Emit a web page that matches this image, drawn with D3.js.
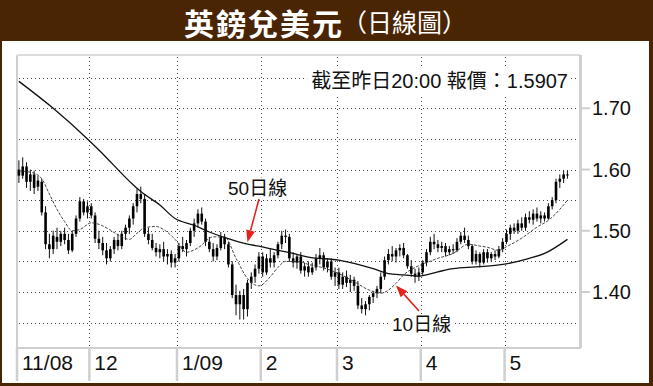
<!DOCTYPE html>
<html><head><meta charset="utf-8">
<script src="https://cdn.jsdelivr.net/npm/d3@7"></script>
<style>html,body{margin:0;padding:0;background:#fff;} svg{display:block;}</style>
</head><body>
<svg id="c" width="653" height="386"></svg>
<script>
// ---------------- DATA ----------------
const monthLabels = ["11/08", "12", "1/09", "2", "3", "4", "5"];
const monthStart  = [0, 19, 42, 64, 84, 106, 128];

const open = [
 1.600,1.590,1.605,1.580,1.592,1.572,1.580,1.530,1.478,1.470,1.490,1.482,1.495,1.485,1.468,1.495,1.520,1.548,1.530,
 1.540,1.525,1.487,1.480,1.468,1.455,1.470,1.485,1.475,1.495,1.505,1.520,1.540,1.560,1.552,1.495,1.485,1.472,1.465,1.470,1.458,1.462,1.448,
 1.455,1.475,1.470,1.480,1.500,1.512,1.528,1.515,1.482,1.470,1.458,1.472,1.490,1.478,1.445,1.395,1.380,1.395,1.372,1.415,1.425,1.438,
 1.458,1.432,1.455,1.448,1.460,1.478,1.492,1.490,1.455,1.448,1.458,1.435,1.442,1.432,1.440,1.455,1.460,1.440,1.450,1.425,
 1.432,1.412,1.425,1.415,1.420,1.410,1.378,1.372,1.380,1.392,1.398,1.405,1.425,1.452,1.462,1.458,1.468,1.472,1.460,1.442,1.430,1.425,
 1.432,1.448,1.465,1.482,1.478,1.472,1.475,1.465,1.470,1.468,1.482,1.492,1.485,1.475,1.450,1.462,1.448,1.465,1.455,1.462,1.458,1.470,
 1.482,1.495,1.505,1.500,1.512,1.505,1.522,1.518,1.528,1.520,1.525,1.520,1.540,1.550,1.580,1.585,1.592];
const high = [
 1.615,1.620,1.612,1.600,1.598,1.590,1.585,1.540,1.495,1.500,1.505,1.500,1.505,1.495,1.500,1.525,1.555,1.552,1.548,
 1.545,1.530,1.500,1.490,1.480,1.475,1.490,1.495,1.500,1.510,1.525,1.545,1.568,1.572,1.560,1.505,1.495,1.480,1.478,1.482,1.470,1.468,1.462,
 1.480,1.490,1.485,1.505,1.520,1.535,1.538,1.520,1.490,1.480,1.478,1.498,1.495,1.482,1.450,1.412,1.402,1.405,1.420,1.432,1.445,1.465,
 1.465,1.462,1.470,1.465,1.482,1.500,1.502,1.495,1.465,1.462,1.465,1.448,1.450,1.448,1.462,1.472,1.465,1.455,1.455,1.440,
 1.440,1.432,1.435,1.428,1.425,1.418,1.390,1.385,1.395,1.402,1.410,1.432,1.458,1.470,1.475,1.472,1.478,1.480,1.462,1.452,1.438,1.440,
 1.452,1.470,1.490,1.495,1.485,1.482,1.480,1.475,1.478,1.488,1.498,1.505,1.492,1.478,1.468,1.465,1.470,1.470,1.465,1.468,1.475,1.488,
 1.502,1.510,1.512,1.518,1.522,1.528,1.532,1.535,1.538,1.532,1.530,1.545,1.555,1.585,1.592,1.598,1.598];
const low = [
 1.578,1.585,1.570,1.565,1.560,1.565,1.525,1.470,1.455,1.462,1.470,1.475,1.478,1.462,1.465,1.490,1.515,1.525,1.520,
 1.520,1.480,1.470,1.460,1.445,1.450,1.462,1.468,1.470,1.485,1.495,1.510,1.530,1.545,1.490,1.478,1.468,1.458,1.455,1.450,1.445,1.440,1.440,
 1.450,1.465,1.458,1.475,1.490,1.505,1.510,1.475,1.465,1.450,1.452,1.468,1.470,1.440,1.390,1.362,1.355,1.355,1.360,1.405,1.415,1.430,
 1.425,1.428,1.440,1.440,1.455,1.470,1.480,1.450,1.440,1.438,1.430,1.425,1.425,1.428,1.435,1.445,1.435,1.432,1.420,1.410,
 1.405,1.405,1.408,1.400,1.402,1.372,1.365,1.362,1.370,1.382,1.390,1.398,1.420,1.445,1.450,1.448,1.458,1.455,1.438,1.425,1.415,1.418,
 1.428,1.442,1.460,1.470,1.465,1.465,1.458,1.460,1.462,1.465,1.478,1.480,1.470,1.445,1.445,1.440,1.445,1.448,1.450,1.452,1.455,1.465,
 1.478,1.485,1.495,1.495,1.500,1.500,1.512,1.510,1.515,1.512,1.515,1.518,1.535,1.545,1.570,1.578,1.585];
const close = [
 1.590,1.605,1.580,1.592,1.570,1.582,1.530,1.478,1.470,1.492,1.482,1.495,1.485,1.468,1.495,1.520,1.548,1.530,1.540,
 1.525,1.487,1.480,1.468,1.455,1.470,1.485,1.475,1.495,1.505,1.520,1.540,1.560,1.552,1.495,1.485,1.472,1.465,1.470,1.458,1.462,1.448,1.455,
 1.475,1.470,1.480,1.500,1.512,1.528,1.515,1.482,1.470,1.458,1.472,1.490,1.478,1.445,1.395,1.380,1.395,1.372,1.415,1.425,1.438,1.458,
 1.432,1.455,1.448,1.460,1.478,1.492,1.490,1.455,1.448,1.458,1.435,1.442,1.432,1.440,1.455,1.460,1.440,1.450,1.425,1.432,
 1.412,1.425,1.415,1.420,1.410,1.378,1.372,1.380,1.392,1.398,1.405,1.425,1.452,1.462,1.458,1.468,1.472,1.460,1.442,1.430,1.425,1.432,
 1.448,1.465,1.482,1.478,1.472,1.475,1.465,1.470,1.468,1.482,1.492,1.485,1.475,1.450,1.462,1.448,1.465,1.455,1.462,1.458,1.470,1.482,
 1.495,1.505,1.500,1.512,1.505,1.522,1.518,1.528,1.520,1.525,1.520,1.540,1.550,1.580,1.585,1.592,1.5907];

// moving averages at these trading-day positions
const ma10Day = [0,4,6,8,10,12,14,16,19,22,24,27,29,31,33,36,38,41,44,47,51,54,57,60,63,66,68,70,74,76,79,84,88,92,95,99,101,104,107,110,114,118,121,123,126,128,132,136,139,142,144];
const ma10    = [1.598,1.594,1.585,1.560,1.535,1.515,1.500,1.502,1.513,1.508,1.501,1.490,1.486,1.496,1.505,1.507,1.502,1.486,1.465,1.472,1.490,1.490,1.455,1.422,1.410,1.425,1.440,1.450,1.449,1.445,1.441,1.430,1.417,1.403,1.398,1.414,1.428,1.440,1.448,1.455,1.463,1.478,1.475,1.473,1.468,1.474,1.488,1.506,1.517,1.535,1.550];
const ma50Day = [0,9,18,21,30,32,37,41,46,50,54,60,63,68,72,76,84,93,97,101,105,110,114,120,127,134,138,144];
const ma50    = [1.744,1.700,1.650,1.632,1.575,1.564,1.542,1.520,1.509,1.498,1.489,1.478,1.475,1.468,1.463,1.457,1.452,1.438,1.430,1.428,1.426,1.433,1.438,1.441,1.445,1.455,1.463,1.486];

const yTicks = [1.40, 1.50, 1.60, 1.70];
const yGrid  = [1.35, 1.40, 1.45, 1.50, 1.55, 1.60, 1.65, 1.70, 1.75];

const titleText = "英鎊兌美元";
const subtitleText = "（日線圖）";
const noteText = "截至昨日20:00 報價：1.5907";
const label50 = "50日線", label10 = "10日線";
const label50Day = 60, label10Day = 99;

// ---------------- DRAW ----------------
const W = 653, H = 386;
const CJK = "'Noto Sans CJK TC','Noto Sans CJK SC',sans-serif";
const LAT = "'Liberation Sans',Arial,'Noto Sans CJK TC',sans-serif";
const brown = "#4a2503", red = "#e3231b", axisGrey = "#cfcfcf";
const svg = d3.select("#c");

svg.append("rect").attr("width", W).attr("height", H).attr("fill", brown);
svg.append("rect").attr("x", 2).attr("y", 41).attr("width", 647).attr("height", 342).attr("fill", "#fff");

// title
svg.append("text").attr("x", 184).attr("y", 35).text(titleText)
  .attr("font-family", CJK).attr("font-weight", "bold").attr("font-size", 30)
  .attr("letter-spacing", 2).attr("fill", "#fff");
svg.append("text").attr("x", 342).attr("y", 32).text(subtitleText)
  .attr("font-family", CJK).attr("font-size", 25).attr("fill", "#fff");

const plot = {left: 17, right: 580, top: 55, bottom: 348};
const x = d3.scaleLinear().domain([-0.5, 147.3]).range([plot.left, plot.right]);
const y = d3.scaleLinear().domain([1.40, 1.70]).range([292, 108.3]);

// grid
const grid = svg.append("g").attr("stroke", "#444").attr("stroke-width", 1).attr("stroke-dasharray", "1,3");
grid.selectAll("line.h").data(yGrid).join("line").attr("class", "h")
  .attr("x1", plot.left + 2).attr("x2", plot.right).attr("y1", d => Math.round(y(d)) + 0.5).attr("y2", d => Math.round(y(d)) + 0.5);
grid.selectAll("line.v").data(monthStart.slice(1)).join("line").attr("class", "v")
  .attr("x1", d => Math.round(x(d - 0.5)) + 0.5).attr("x2", d => Math.round(x(d - 0.5)) + 0.5)
  .attr("y1", plot.top + 2).attr("y2", plot.bottom);

// frame
const frame = svg.append("g").attr("stroke", axisGrey);
frame.append("line").attr("x1", plot.left).attr("x2", plot.left).attr("y1", plot.top).attr("y2", plot.bottom).attr("stroke-width", 2);
frame.append("line").attr("x1", plot.left).attr("x2", plot.right).attr("y1", plot.top).attr("y2", plot.top).attr("stroke-width", 2).attr("stroke", "#dcdcdc");
frame.append("line").attr("x1", plot.left).attr("x2", plot.right + 1).attr("y1", plot.bottom).attr("y2", plot.bottom).attr("stroke-width", 2);
frame.append("line").attr("x1", plot.right + 0.5).attr("x2", plot.right + 0.5).attr("y1", plot.top).attr("y2", plot.bottom).attr("stroke-width", 3);

// y axis
const yAx = svg.append("g");
yAx.selectAll("line").data(yTicks).join("line")
  .attr("x1", plot.right + 2).attr("x2", plot.right + 10).attr("y1", d => y(d)).attr("y2", d => y(d))
  .attr("stroke", axisGrey).attr("stroke-width", 2);
yAx.selectAll("text").data(yTicks).join("text")
  .attr("x", 592).attr("y", d => y(d) + 7).text(d => d.toFixed(2))
  .attr("font-family", LAT).attr("font-size", 20).attr("fill", "#111");

// x axis strip
const xAx = svg.append("g");
xAx.selectAll("line").data(monthStart).join("line")
  .attr("x1", d => x(d - 0.5)).attr("x2", d => x(d - 0.5)).attr("y1", plot.bottom).attr("y2", 381)
  .attr("stroke", axisGrey).attr("stroke-width", 2.5);
xAx.selectAll("text").data(monthStart).join("text")
  .attr("x", d => x(d - 0.5) + 5).attr("y", 370).text((d, i) => monthLabels[i])
  .attr("font-family", LAT).attr("font-size", 21).attr("fill", "#111");

// note (with white background)
const note = svg.append("text").attr("x", 568).attr("y", 88).attr("text-anchor", "end").text(noteText)
  .attr("font-family", LAT).attr("font-size", 20).attr("fill", "#111");
const nb = note.node().getBBox();
svg.insert("rect", () => note.node()).attr("x", nb.x - 4).attr("y", nb.y - 3).attr("width", nb.width + 6).attr("height", nb.height + 6).attr("fill", "#fff");

// candles
const idx = d3.range(close.length);
const cw = 2.6;
const cg = svg.append("g");
cg.selectAll("line").data(idx).join("line")
  .attr("x1", i => x(i)).attr("x2", i => x(i)).attr("y1", i => y(high[i])).attr("y2", i => y(low[i]))
  .attr("stroke", "#111").attr("stroke-width", 1);
cg.selectAll("rect").data(idx).join("rect")
  .attr("x", i => x(i) - cw / 2).attr("width", cw)
  .attr("y", i => y(Math.max(open[i], close[i])))
  .attr("height", i => Math.max(1, Math.abs(y(open[i]) - y(close[i]))))
  .attr("fill", "#000");

// moving averages
const line = d3.line().x(d => x(d[0])).y(d => y(d[1])).curve(d3.curveMonotoneX);
svg.append("path").datum(ma50Day.map((d, i) => [d, ma50[i]])).attr("d", line)
  .attr("fill", "none").attr("stroke", "#111").attr("stroke-width", 1.3);
svg.append("path").datum(ma10Day.map((d, i) => [d, ma10[i]])).attr("d", line)
  .attr("fill", "none").attr("stroke", "#333").attr("stroke-width", 0.9).attr("stroke-dasharray", "3,1.5");

// annotations
function interp(days, vals, d) {
  for (let k = 1; k < days.length; k++) if (days[k] >= d) {
    const t = (d - days[k - 1]) / (days[k] - days[k - 1]);
    return vals[k - 1] + t * (vals[k] - vals[k - 1]);
  }
  return vals[vals.length - 1];
}
function arrow(x1, y1, x2, y2) {
  const a = Math.atan2(y2 - y1, x2 - x1), L = 12, hw = 4.5;
  const bx = x2 - L * Math.cos(a), by = y2 - L * Math.sin(a);
  svg.append("line").attr("x1", x1).attr("y1", y1).attr("x2", bx).attr("y2", by)
    .attr("stroke", red).attr("stroke-width", 1.6);
  svg.append("path").attr("fill", red)
    .attr("d", `M${x2},${y2}L${bx - hw * Math.sin(a)},${by + hw * Math.cos(a)}L${bx + hw * Math.sin(a)},${by - hw * Math.cos(a)}Z`);
}
function label(txt, lx, ly) {
  const t = svg.append("text").attr("x", lx).attr("y", ly).text(txt)
    .attr("font-family", LAT).attr("font-size", 19).attr("fill", "#111");
  const b = t.node().getBBox();
  svg.insert("rect", () => t.node()).attr("x", b.x - 2).attr("y", b.y).attr("width", b.width + 4).attr("height", b.height).attr("fill", "#fff");
}
const t50x = x(label50Day), t50y = y(interp(ma50Day, ma50, label50Day)) - 2;
arrow(259, 199, t50x, t50y);
label(label50, 228, 194.5);
const t10x = x(label10Day), t10y = y(interp(ma10Day, ma10, label10Day)) + 2;
arrow(419, 311, t10x, t10y);
label(label10, 392, 331);
</script>
</body></html>
